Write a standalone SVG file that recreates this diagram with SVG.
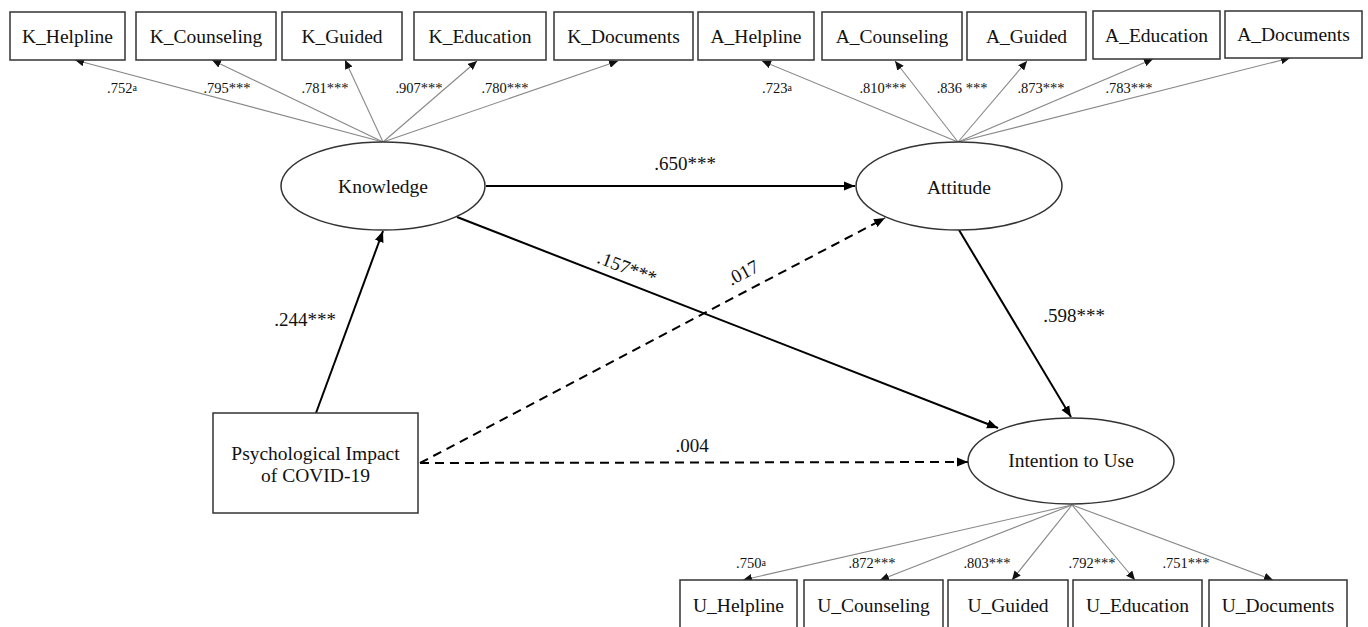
<svg xmlns="http://www.w3.org/2000/svg" width="1368" height="627" viewBox="0 0 1368 627">
<defs>
<marker id="ah" markerUnits="userSpaceOnUse" markerWidth="12" markerHeight="10" refX="11" refY="5" orient="auto"><path d="M0,0.5 L11,5 L0,9.5 z" fill="#000"/></marker>
<marker id="sh" markerUnits="userSpaceOnUse" markerWidth="10" markerHeight="8" refX="9" refY="4" orient="auto"><path d="M0,0 L9,4 L0,8 z" fill="#111"/></marker>
</defs>
<style>
.box{fill:#fff;stroke:#333;stroke-width:1.5}
.ell{fill:#fff;stroke:#333;stroke-width:1.5}
.t{font-family:"Liberation Serif","Times New Roman",serif;font-size:19.5px;fill:#111;text-anchor:middle}
.lt{font-family:"Liberation Serif","Times New Roman",serif;font-size:14.5px;fill:#111;text-anchor:middle}
.pt{font-family:"Liberation Serif","Times New Roman",serif;font-size:19px;fill:#111;text-anchor:middle}
.sup{font-size:10px}
.ld{stroke:#888;stroke-width:1.1;fill:none;marker-end:url(#sh)}
.pa{stroke:#000;stroke-width:2;fill:none;marker-end:url(#ah)}
.da{stroke:#000;stroke-width:2;fill:none;stroke-dasharray:9 6}
</style>
<rect width="1368" height="627" fill="#fff"/>
<g id="connectors">
<line class="ld" x1="383" y1="142" x2="75" y2="60"/>
<line class="ld" x1="383" y1="142" x2="212" y2="60"/>
<line class="ld" x1="383" y1="142" x2="345" y2="60"/>
<line class="ld" x1="383" y1="142" x2="477" y2="61"/>
<line class="ld" x1="383" y1="142" x2="618" y2="61"/>
<line class="ld" x1="958" y1="142" x2="762" y2="61"/>
<line class="ld" x1="958" y1="142" x2="895" y2="61"/>
<line class="ld" x1="958" y1="142" x2="1027" y2="61"/>
<line class="ld" x1="958" y1="142" x2="1153" y2="59"/>
<line class="ld" x1="958" y1="142" x2="1290" y2="58"/>
<line class="ld" x1="1072" y1="505" x2="743" y2="580"/>
<line class="ld" x1="1072" y1="505" x2="880" y2="580"/>
<line class="ld" x1="1072" y1="505" x2="1012" y2="580"/>
<line class="ld" x1="1072" y1="505" x2="1135" y2="580"/>
<line class="ld" x1="1072" y1="505" x2="1273" y2="580"/>
<line class="pa" x1="486" y1="186" x2="855" y2="186"/>
<line class="pa" x1="959" y1="230" x2="1071" y2="417"/>
<line class="pa" x1="457" y1="217" x2="998" y2="428"/>
<line class="pa" x1="316" y1="413" x2="383" y2="231"/>
<line class="da" x1="420" y1="463" x2="885" y2="218" marker-end="url(#ah)"/>
<line class="da" x1="420" y1="463" x2="968" y2="462" marker-end="url(#ah)"/>
<text class="lt" x="122" y="93">.752<tspan class="sup" dy="-2">a</tspan></text>
<text class="lt" x="227" y="93">.795***</text>
<text class="lt" x="325" y="93">.781***</text>
<text class="lt" x="419" y="93">.907***</text>
<text class="lt" x="505" y="93">.780***</text>
<text class="lt" x="777" y="93">.723<tspan class="sup" dy="-2">a</tspan></text>
<text class="lt" x="883" y="93">.810***</text>
<text class="lt" x="962" y="93">.836 ***</text>
<text class="lt" x="1041" y="93">.873***</text>
<text class="lt" x="1129" y="93">.783***</text>
<text class="lt" x="751" y="568">.750<tspan class="sup" dy="-2">a</tspan></text>
<text class="lt" x="872" y="568">.872***</text>
<text class="lt" x="987" y="568">.803***</text>
<text class="lt" x="1092" y="568">.792***</text>
<text class="lt" x="1186" y="568">.751***</text>
<text class="pt" x="685" y="170">.650***</text>
<text class="pt" x="1074" y="322">.598***</text>
<text class="pt" x="305" y="326">.244***</text>
<text class="pt" x="692" y="452">.004</text>
<text class="pt" transform="translate(627,268) rotate(21)" x="0" y="6">.157***</text>
<text class="pt" transform="translate(743,273) rotate(-28)" x="0" y="6">.017</text>
</g>
<g id="K_Helpline"><rect class="box" x="10" y="12" width="115" height="48"/><text class="t" x="67.5" y="43">K_Helpline</text></g>
<g id="K_Counseling"><rect class="box" x="136" y="12" width="140" height="48"/><text class="t" x="206" y="43">K_Counseling</text></g>
<g id="K_Guided"><rect class="box" x="282" y="12" width="120" height="48"/><text class="t" x="342" y="43">K_Guided</text></g>
<g id="K_Education"><rect class="box" x="414" y="12" width="132" height="48"/><text class="t" x="480" y="43">K_Education</text></g>
<g id="K_Documents"><rect class="box" x="554" y="12" width="139" height="48"/><text class="t" x="623.5" y="43">K_Documents</text></g>
<g id="A_Helpline"><rect class="box" x="698" y="12" width="116" height="48"/><text class="t" x="756" y="43">A_Helpline</text></g>
<g id="A_Counseling"><rect class="box" x="822" y="12" width="140" height="48"/><text class="t" x="892" y="43">A_Counseling</text></g>
<g id="A_Guided"><rect class="box" x="967" y="12" width="119" height="48"/><text class="t" x="1026.5" y="43">A_Guided</text></g>
<g id="A_Education"><rect class="box" x="1093" y="11" width="127" height="48"/><text class="t" x="1156.5" y="42">A_Education</text></g>
<g id="A_Documents"><rect class="box" x="1225" y="11" width="137" height="47"/><text class="t" x="1293.5" y="41">A_Documents</text></g>
<g id="Knowledge"><ellipse class="ell" cx="383" cy="186" rx="102" ry="44"/><text class="t" x="383" y="193">Knowledge</text></g>
<g id="Attitude"><ellipse class="ell" cx="959" cy="186" rx="103" ry="44"/><text class="t" x="959" y="194">Attitude</text></g>
<g id="Intention"><ellipse class="ell" cx="1071" cy="461" rx="103" ry="43"/><text class="t" x="1071" y="467">Intention to Use</text></g>
<g id="Psych"><rect class="box" x="213" y="413" width="205" height="100"/><text class="t" x="315.5" y="460">Psychological Impact</text><text class="t" x="315.5" y="482">of COVID-19</text></g>
<g id="U_Helpline"><rect class="box" x="680" y="580" width="117" height="52"/><text class="t" x="738.5" y="612">U_Helpline</text></g>
<g id="U_Counseling"><rect class="box" x="804" y="580" width="139" height="52"/><text class="t" x="873.5" y="612">U_Counseling</text></g>
<g id="U_Guided"><rect class="box" x="948" y="580" width="120" height="52"/><text class="t" x="1008" y="612">U_Guided</text></g>
<g id="U_Education"><rect class="box" x="1073" y="580" width="129" height="52"/><text class="t" x="1137.5" y="612">U_Education</text></g>
<g id="U_Documents"><rect class="box" x="1209" y="580" width="138" height="52"/><text class="t" x="1278" y="612">U_Documents</text></g>
</svg>
